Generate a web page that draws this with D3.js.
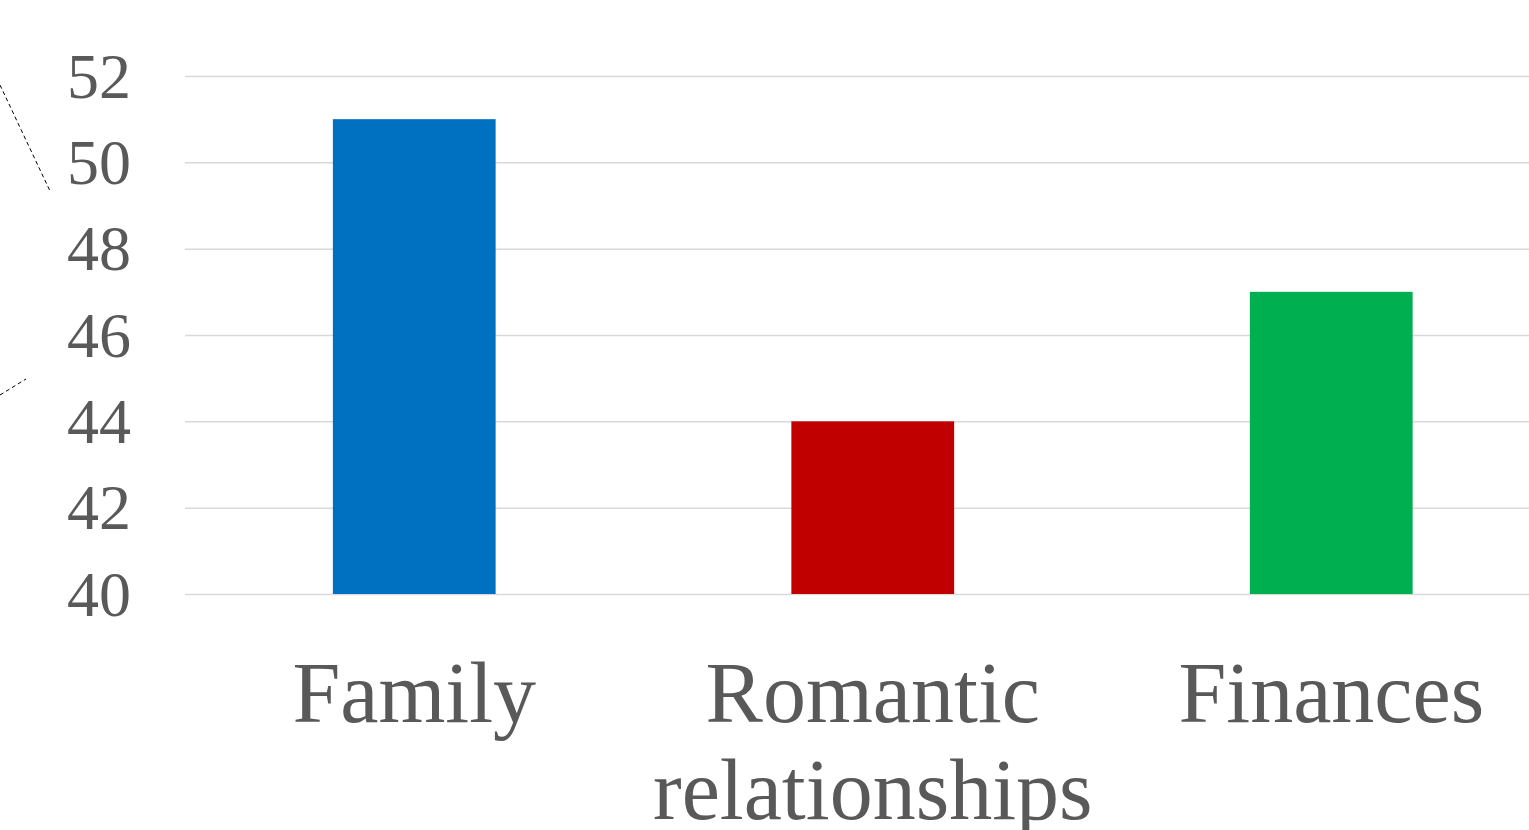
<!DOCTYPE html>
<html>
<head>
<meta charset="utf-8">
<script src="https://cdn.jsdelivr.net/npm/d3@7"></script>
<style>
  body { margin: 0; background: #fff; overflow: hidden; }
  svg { display: block; }
  .grid line { stroke: #d9d9d9; stroke-width: 1.5; }
  .grid path { display: none; }
  .tick text { font-family: "Liberation Serif", "Times New Roman", serif; fill: #595959; }
</style>
</head>
<body>
<svg id="chart"></svg>
<script>
// chart data
const categories = ["Family", "Romantic relationships", "Finances"];
const values = [51, 44, 47];
const barColors = ["#0070c0", "#c00000", "#00b050"];
const yTicks = [40, 42, 44, 46, 48, 50, 52];

const width = 1529;
const height = 830;

const svg = d3.select("#chart").attr("width", width).attr("height", height);

// scales
const x = d3
  .scaleBand()
  .domain(categories)
  .range([185, 1560.5])
  .paddingInner(0.645)
  .paddingOuter(0.3225);

const y = d3.scaleLinear().domain([40, 52]).range([594, 76]);

// horizontal grid lines
svg
  .append("g")
  .attr("class", "grid")
  .attr("transform", "translate(185,0)")
  .call(d3.axisLeft(y).tickValues(yTicks).tickSize(-(width - 185)).tickFormat(""));

// y tick labels
const yAxis = svg
  .append("g")
  .attr("transform", "translate(131,0)")
  .call(d3.axisLeft(y).tickValues(yTicks).tickSize(0).tickPadding(0));
yAxis.select(".domain").remove();
yAxis.selectAll("text").attr("font-size", 64).attr("dy", "0.33em");

// bars
svg
  .append("g")
  .selectAll("rect")
  .data(categories)
  .enter()
  .append("rect")
  .attr("x", (d) => x(d))
  .attr("width", x.bandwidth())
  .attr("y", (d, i) => y(values[i]))
  .attr("height", (d, i) => y(40) - y(values[i]))
  .attr("fill", (d, i) => barColors[i]);

// x axis labels (wrapped)
const xAxis = svg
  .append("g")
  .attr("transform", "translate(0,722)")
  .call(d3.axisBottom(x).tickSize(0).tickPadding(0));
xAxis.select(".domain").remove();
xAxis
  .selectAll("text")
  .attr("font-size", 86)
  .attr("y", 0)
  .attr("dy", 0)
  .each(function (d) {
    const t = d3.select(this);
    const words = d.split(" ");
    t.text(null);
    words.forEach(function (w, i) {
      t.append("tspan")
        .attr("x", 0)
        .attr("dy", i === 0 ? 0 : 97)
        .text(w);
    });
  });

// dashed leader lines at left edge
svg
  .append("line")
  .attr("x1", 0).attr("y1", 85)
  .attr("x2", 50).attr("y2", 191)
  .attr("stroke", "#000")
  .attr("stroke-width", 1)
  .attr("stroke-dasharray", "4,3");
svg
  .append("line")
  .attr("x1", 0).attr("y1", 395)
  .attr("x2", 26).attr("y2", 379)
  .attr("stroke", "#000")
  .attr("stroke-width", 1)
  .attr("stroke-dasharray", "4,3");
</script>
</body>
</html>
